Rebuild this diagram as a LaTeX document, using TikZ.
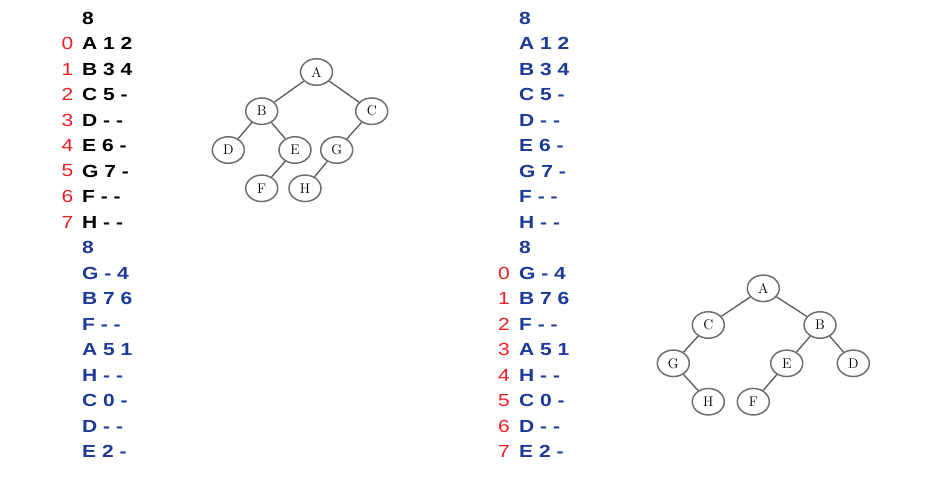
\documentclass[tikz,border=0pt]{standalone}
\usepackage{fontspec}
\usetikzlibrary{shapes.geometric}
\newfontfamily\lbl[FakeStretch=1.2]{Liberation Sans}
\definecolor{myblue}{RGB}{28,58,150}
\definecolor{myred}{RGB}{238,30,36}
\definecolor{treegray}{RGB}{110,110,110}
\definecolor{edgegray}{RGB}{90,90,90}
\tikzset{
  rowtxt/.style={anchor=west,inner sep=0pt,font=\lbl\bfseries\fontsize{17.5}{20}\selectfont},
  blk/.style={rowtxt,text=black},
  blu/.style={rowtxt,text=myblue},
  idx/.style={anchor=west,inner sep=0pt,font=\lbl\fontsize{17.5}{20}\selectfont,text=myred},
  tn/.style={ellipse,draw=treegray,line width=1.5pt,minimum width=32pt,minimum height=26.5pt,inner sep=0pt,font=\fontsize{14}{14}\selectfont},
  te/.style={draw=edgegray,line width=1.3pt}
}
\begin{document}
\begin{tikzpicture}[x=1pt,y=-1pt]
\useasboundingbox (0,0) rectangle (944,485);
% left column
\node[blk] (lt0) at (82,18) {8};
\foreach \t [count=\i from 1] in {A 1 2,B 3 4,C 5 -,D - -,E 6 -,G 7 -,F - -,H - -}{
  \node[blk] (lt\i) at (82,{18+25.5*\i}) {\t};
}
\foreach \i in {0,...,7}{
  \node[idx] (li\i) at (61.5,{18+25.5*(\i+1)}) {\i};
}
\node[blu] (lb0) at (82,{18+25.5*9}) {8};
\foreach \t [count=\i from 1] in {G - 4,B 7 6,F - -,A 5 1,H - -,C 0 -,D - -,E 2 -}{
  \node[blu] (lb\i) at (82,{18+25.5*(9+\i)}) {\t};
}
% right column
\node[blu] (rt0) at (519,18) {8};
\foreach \t [count=\i from 1] in {A 1 2,B 3 4,C 5 -,D - -,E 6 -,G 7 -,F - -,H - -}{
  \node[blu] (rt\i) at (519,{18+25.5*\i}) {\t};
}
\node[blu] (rb0) at (519,{18+25.5*9}) {8};
\foreach \t [count=\i from 1] in {G - 4,B 7 6,F - -,A 5 1,H - -,C 0 -,D - -,E 2 -}{
  \node[blu] (rb\i) at (519,{18+25.5*(9+\i)}) {\t};
}
\foreach \i in {0,...,7}{
  \node[idx] (ri\i) at (498,{18+25.5*(10+\i)}) {\i};
}
% top tree
\node[tn] (tA) at (316.5,72) {A};
\node[tn] (tB) at (261.7,111.2) {B};
\node[tn] (tC) at (371.7,111.2) {C};
\node[tn] (tD) at (228.3,150) {D};
\node[tn] (tE) at (295,150) {E};
\node[tn] (tG) at (336.7,150) {G};
\node[tn] (tF) at (261.7,188.3) {F};
\node[tn] (tH) at (305,188.3) {H};
\draw[te] (tA) -- (tB);
\draw[te] (tA) -- (tC);
\draw[te] (tB) -- (tD);
\draw[te] (tB) -- (tE);
\draw[te] (tE) -- (tF);
\draw[te] (tC) -- (tG);
\draw[te] (tG) -- (tH);
% bottom tree
\node[tn] (bA) at (763.3,288.3) {A};
\node[tn] (bC) at (708.3,325) {C};
\node[tn] (bB) at (820,325) {B};
\node[tn] (bG) at (673.3,363.3) {G};
\node[tn] (bE) at (786.7,363.3) {E};
\node[tn] (bD) at (853.3,363.3) {D};
\node[tn] (bH) at (708.3,401.7) {H};
\node[tn] (bF) at (753.3,401.7) {F};
\draw[te] (bA) -- (bC);
\draw[te] (bA) -- (bB);
\draw[te] (bC) -- (bG);
\draw[te] (bG) -- (bH);
\draw[te] (bB) -- (bE);
\draw[te] (bB) -- (bD);
\draw[te] (bE) -- (bF);
\end{tikzpicture}
\end{document}
